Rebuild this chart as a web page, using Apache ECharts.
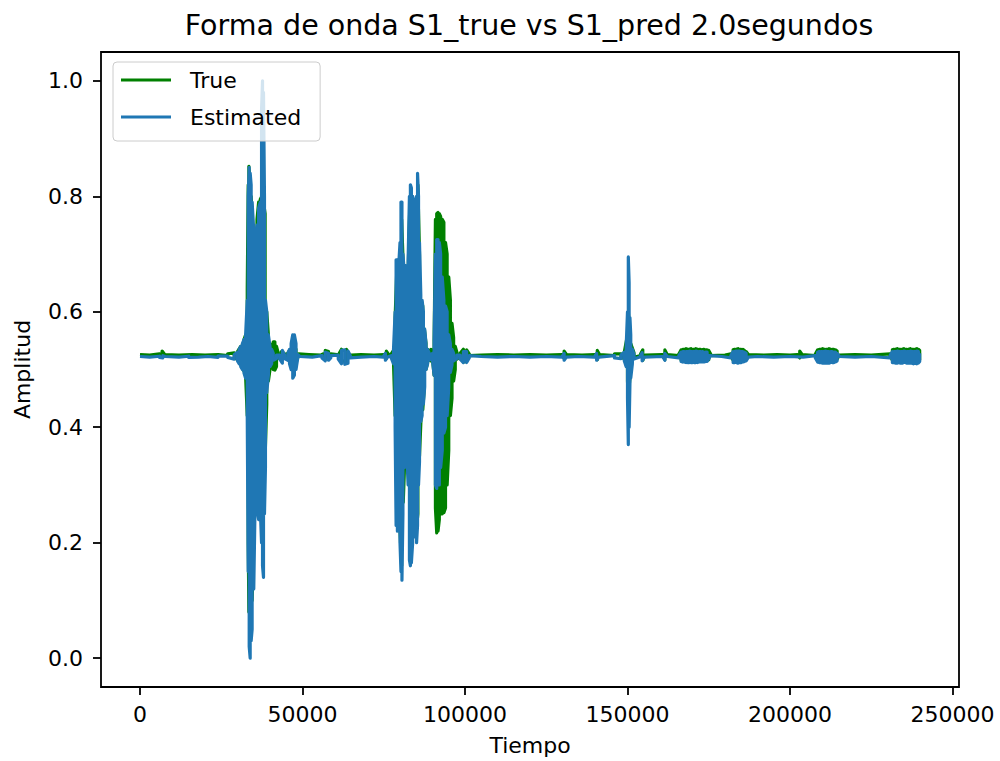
<!DOCTYPE html>
<html>
<head>
<meta charset="utf-8">
<script src="https://cdn.jsdelivr.net/npm/echarts@6/dist/echarts.min.js"></script>
<style>
html,body{margin:0;padding:0;background:#fff;}
#chart{width:1000px;height:761px;}
</style>
</head>
<body>
<div id="chart"></div>
<script>
// ---- Data ----
const titleText = 'Forma de onda S1_true vs S1_pred 2.0segundos';
const seriesNames = ['True', 'Estimated'];
const xTicks = [0, 50000, 100000, 150000, 200000, 250000];
const yTicks = [0.0, 0.2, 0.4, 0.6, 0.8, 1.0];

// Envelope of each waveform: [sample, upper value, lower value]
const trueEnv = [
  [0,0.526,0.525],[3000,0.526,0.525],[6000,0.527,0.524],[6800,0.532,0.521],[7600,0.526,0.525],
  [12000,0.526,0.525],[16000,0.526,0.525],[20000,0.526,0.525],[24000,0.526,0.525],[27000,0.527,0.524],
  [29000,0.529,0.521],[30000,0.531,0.517],[31000,0.540,0.508],[32000,0.552,0.497],[32500,0.560,0.488],
  [33000,0.640,0.420],[33300,0.820,0.200],[33500,0.852,0.080],[33800,0.830,0.030],[34200,0.800,0.060],
  [34500,0.770,0.100],[35000,0.730,0.220],[35500,0.730,0.280],[36000,0.760,0.260],[36500,0.790,0.250],
  [37000,0.795,0.240],[37500,0.800,0.250],[38000,0.790,0.280],[38500,0.770,0.350],[39000,0.600,0.440],
  [39500,0.560,0.480],[40000,0.545,0.500],[40500,0.535,0.512],[41000,0.548,0.500],[41500,0.548,0.499],
  [42000,0.540,0.505],[42500,0.529,0.520],[43500,0.531,0.518],[44500,0.527,0.524],[45300,0.527,0.524],
  [46000,0.533,0.516],[47000,0.545,0.505],[48000,0.535,0.512],[48800,0.527,0.524],[52000,0.526,0.525],
  [55600,0.526,0.525],[56300,0.527,0.524],[57000,0.533,0.517],[58000,0.531,0.519],[58700,0.527,0.524],
  [60600,0.526,0.525],[61300,0.528,0.523],[62000,0.535,0.515],[63500,0.535,0.514],[64200,0.528,0.523],
  [65000,0.526,0.525],[68000,0.526,0.525],[72000,0.526,0.525],[75100,0.526,0.525],[75800,0.532,0.519],
  [76500,0.526,0.525],[77300,0.527,0.524],
  [78000,0.533,0.512],[78500,0.590,0.420],[79000,0.670,0.250],[79500,0.670,0.250],[80000,0.700,0.220],
  [80500,0.760,0.160],[81000,0.680,0.270],[81500,0.660,0.350],[82000,0.650,0.360],[82500,0.670,0.320],
  [83000,0.780,0.190],[83500,0.800,0.180],[84000,0.780,0.220],[84500,0.770,0.230],[85000,0.780,0.220],
  [85500,0.820,0.250],[86000,0.700,0.350],[86500,0.620,0.420],[87000,0.610,0.430],[87500,0.570,0.470],
  [88000,0.545,0.500],[88500,0.535,0.512],[89000,0.530,0.518],[89500,0.535,0.515],[90000,0.533,0.517],
  [90500,0.550,0.490],[90900,0.760,0.260],[91300,0.770,0.217],[91700,0.772,0.220],[92100,0.770,0.240],
  [92500,0.765,0.250],[93000,0.760,0.250],[93500,0.755,0.252],[94000,0.720,0.260],[94500,0.700,0.300],
  [95000,0.660,0.360],[95500,0.620,0.420],[96000,0.580,0.450],[96500,0.555,0.480],[97000,0.540,0.500],
  [97500,0.530,0.518],[98500,0.528,0.522],[99500,0.535,0.513],[100500,0.534,0.514],[101300,0.527,0.524],
  [105000,0.526,0.525],[110000,0.526,0.525],[115000,0.526,0.525],[120000,0.526,0.525],[125000,0.526,0.525],
  [129800,0.526,0.525],[130500,0.532,0.519],[131200,0.526,0.525],[136000,0.526,0.525],[140000,0.526,0.525],
  [140700,0.533,0.517],[141400,0.526,0.525],[146000,0.527,0.524],[148000,0.527,0.523],[149000,0.530,0.518],
  [150000,0.560,0.480],[150250,0.600,0.450],[150500,0.580,0.470],[151000,0.545,0.500],[152000,0.529,0.521],
  [154000,0.527,0.524],[154700,0.534,0.516],[155400,0.526,0.525],[160800,0.526,0.525],[161500,0.534,0.517],
  [162200,0.526,0.525],[165800,0.527,0.524],
  [166500,0.534,0.516],[167000,0.535,0.515],[167500,0.535,0.515],[168000,0.536,0.514],[168500,0.535,0.515],
  [169000,0.535,0.515],[169500,0.536,0.515],[170000,0.535,0.514],[170500,0.535,0.515],[171000,0.536,0.515],
  [171500,0.535,0.515],[172000,0.535,0.514],[172500,0.535,0.515],[173000,0.534,0.516],[173500,0.535,0.516],
  [174000,0.534,0.516],[174500,0.534,0.516],[175000,0.533,0.517],[175600,0.527,0.524],[180000,0.526,0.525],
  [181800,0.527,0.524],[182500,0.534,0.516],[183000,0.535,0.515],[183500,0.535,0.515],[184000,0.536,0.514],
  [184500,0.535,0.515],[185000,0.535,0.515],[185500,0.535,0.515],[186000,0.533,0.517],[186500,0.531,0.519],
  [187200,0.526,0.525],[192000,0.526,0.525],[196000,0.526,0.525],[200000,0.526,0.525],[202300,0.526,0.525],
  [203000,0.532,0.520],[203700,0.526,0.525],[207800,0.527,0.524],
  [208500,0.534,0.516],[209000,0.535,0.515],[209500,0.535,0.515],[210000,0.536,0.514],[210500,0.535,0.514],
  [211000,0.535,0.514],[211500,0.535,0.514],[212000,0.536,0.514],[212500,0.535,0.514],[213000,0.535,0.515],
  [213500,0.535,0.515],[214000,0.534,0.516],[214500,0.532,0.518],[215200,0.526,0.525],[220000,0.526,0.525],
  [225000,0.526,0.525],[230800,0.527,0.524],
  [231500,0.534,0.516],[232000,0.535,0.515],[232500,0.535,0.514],[233000,0.536,0.514],[233500,0.535,0.514],
  [234000,0.535,0.515],[234500,0.535,0.514],[235000,0.536,0.514],[235500,0.535,0.514],[236000,0.535,0.515],
  [236500,0.535,0.514],[237000,0.536,0.514],[237500,0.535,0.514],[238000,0.535,0.515],[238500,0.535,0.514],
  [239000,0.536,0.514],[239500,0.535,0.514],[239900,0.533,0.516]
];

const estEnv = [
  [0,0.5225,0.5215],[3000,0.5225,0.5215],[6000,0.523,0.521],[7000,0.524,0.520],[7700,0.5225,0.5215],
  [12000,0.5225,0.5215],[15000,0.523,0.521],[18000,0.5225,0.5215],[21000,0.5225,0.5215],[24000,0.523,0.521],
  [27000,0.523,0.521],[29000,0.526,0.518],[30000,0.530,0.515],[30500,0.535,0.510],[31000,0.540,0.505],
  [31500,0.545,0.500],[32000,0.552,0.494],[32500,0.560,0.485],[33000,0.620,0.420],[33300,0.800,0.150],
  [33600,0.850,0.020],[33900,0.840,0.000],[34200,0.820,0.030],[34500,0.790,0.050],[35000,0.740,0.120],
  [35500,0.720,0.300],[36000,0.750,0.260],[36500,0.780,0.240],[37000,0.790,0.260],[37400,0.950,0.200],
  [37700,1.000,0.160],[38000,0.980,0.140],[38300,0.800,0.250],[38600,0.620,0.330],[39000,0.600,0.460],
  [39500,0.560,0.490],[40000,0.540,0.505],[40500,0.535,0.510],[41000,0.528,0.516],[42000,0.525,0.519],
  [43000,0.525,0.518],[43800,0.533,0.511],[44500,0.525,0.519],[45500,0.528,0.516],[46000,0.535,0.510],
  [46500,0.545,0.500],[47000,0.560,0.485],[47500,0.560,0.490],[48000,0.545,0.500],[48500,0.526,0.518],
  [49200,0.5225,0.5215],[53000,0.5225,0.5215],[56000,0.524,0.520],[57000,0.530,0.515],[58000,0.528,0.516],
  [58700,0.524,0.520],[61000,0.525,0.518],[62000,0.533,0.510],[63000,0.534,0.509],[64000,0.532,0.511],
  [64700,0.524,0.520],[68000,0.5225,0.5215],[72000,0.5225,0.5215],[74800,0.5225,0.5215],[75500,0.528,0.516],
  [76200,0.5225,0.5215],[77300,0.524,0.520],
  [78000,0.535,0.510],[78500,0.600,0.400],[78800,0.690,0.230],[79200,0.690,0.220],[79600,0.680,0.240],
  [80000,0.720,0.200],[80300,0.790,0.150],[80600,0.790,0.135],[80900,0.700,0.250],[81300,0.670,0.330],
  [81700,0.680,0.340],[82100,0.660,0.350],[82500,0.690,0.300],[82900,0.800,0.170],[83200,0.820,0.160],
  [83500,0.815,0.165],[83900,0.800,0.200],[84300,0.780,0.210],[84700,0.790,0.220],[85100,0.800,0.200],
  [85400,0.840,0.230],[85700,0.800,0.300],[86000,0.720,0.340],[86400,0.630,0.410],[86800,0.620,0.420],
  [87200,0.600,0.440],[87600,0.570,0.470],[88000,0.545,0.500],[88500,0.535,0.510],[89000,0.528,0.516],
  [89500,0.525,0.519],[90000,0.528,0.516],[90500,0.550,0.490],[90900,0.700,0.300],[91300,0.725,0.294],
  [91700,0.725,0.300],[92100,0.720,0.300],[92500,0.700,0.330],[93000,0.660,0.360],[93500,0.620,0.390],
  [94000,0.610,0.400],[94500,0.600,0.420],[95000,0.560,0.470],[95500,0.545,0.495],[96000,0.535,0.508],
  [96500,0.528,0.515],[97500,0.525,0.519],[98500,0.525,0.518],[99500,0.531,0.512],[100500,0.531,0.512],
  [101300,0.524,0.520],[105000,0.5225,0.5215],[110000,0.5225,0.5215],[115000,0.5225,0.5215],[120000,0.5225,0.5215],
  [125000,0.5225,0.5215],[129800,0.5225,0.5215],[130500,0.528,0.516],[131200,0.5225,0.5215],[135000,0.5225,0.5215],
  [139800,0.5225,0.5215],[140500,0.528,0.516],[141200,0.5225,0.5215],[146000,0.524,0.520],[148000,0.525,0.519],
  [149000,0.530,0.515],[149600,0.540,0.505],[150000,0.600,0.450],[150250,0.695,0.370],[150500,0.650,0.400],
  [150750,0.590,0.476],[151000,0.560,0.485],[151500,0.535,0.510],[152000,0.526,0.518],[153800,0.5225,0.5215],
  [154500,0.529,0.515],[155200,0.5225,0.5215],[160800,0.5225,0.5215],[161500,0.528,0.516],[162200,0.5225,0.5215],
  [165800,0.524,0.520],
  [166500,0.530,0.514],[167000,0.531,0.513],[167500,0.531,0.513],[168000,0.531,0.512],[168500,0.531,0.512],
  [169000,0.532,0.512],[169500,0.531,0.512],[170000,0.531,0.512],[170500,0.531,0.512],[171000,0.532,0.512],
  [171500,0.531,0.512],[172000,0.531,0.513],[172500,0.531,0.513],[173000,0.531,0.513],[173500,0.530,0.513],
  [174000,0.530,0.514],[174500,0.530,0.514],[175200,0.524,0.520],[179000,0.5225,0.5215],
  [181800,0.524,0.520],[182500,0.531,0.512],[183000,0.531,0.512],[183500,0.532,0.512],[184000,0.532,0.511],
  [184500,0.532,0.512],[185000,0.531,0.512],[185500,0.531,0.513],[186000,0.530,0.514],[186500,0.528,0.515],
  [187200,0.5225,0.5215],[190000,0.5225,0.5215],[195000,0.5225,0.5215],[200000,0.5225,0.5215],[204000,0.5225,0.5215],
  [207800,0.524,0.520],
  [208500,0.530,0.513],[209000,0.531,0.512],[209500,0.531,0.512],[210000,0.531,0.511],[210500,0.531,0.511],
  [211000,0.532,0.511],[211500,0.531,0.511],[212000,0.531,0.511],[212500,0.531,0.512],[213000,0.531,0.512],
  [213500,0.530,0.512],[214000,0.530,0.513],[214500,0.528,0.515],[215200,0.5225,0.5215],[220000,0.5225,0.5215],
  [225000,0.5225,0.5215],[230800,0.524,0.520],
  [231500,0.531,0.512],[232000,0.531,0.512],[232500,0.531,0.511],[233000,0.532,0.511],[233500,0.531,0.512],
  [234000,0.531,0.511],[234500,0.531,0.511],[235000,0.532,0.512],[235500,0.531,0.512],[236000,0.531,0.511],
  [236500,0.531,0.511],[237000,0.532,0.511],[237500,0.531,0.511],[238000,0.531,0.510],[238500,0.531,0.511],
  [239000,0.532,0.510],[239500,0.531,0.511],[239900,0.528,0.514]
];

// Turn an envelope into the up/down trace of the waveform
// (alternating the order so long connectors run along the envelope edges)
function trace(env) {
  const out = [];
  env.forEach(function (r, i) {
    if (i % 2 === 0) { out.push([r[0], r[1]]); out.push([r[0], r[2]]); }
    else { out.push([r[0], r[2]]); out.push([r[0], r[1]]); }
  });
  return out;
}

const FONT = 'DejaVu Sans';
const chart = echarts.init(document.getElementById('chart'), null, {renderer: 'svg'});
chart.setOption({
  animation: false,
  backgroundColor: '#fff',
  title: {
    text: titleText,
    left: 529, top: 11, padding: 0, textAlign: 'center',
    textStyle: {fontFamily: FONT, fontSize: 28.5, fontWeight: 'normal', color: '#000'}
  },
  grid: {left: 101, right: 41, top: 52, bottom: 72, show: true, borderColor: '#000', borderWidth: 1.8, backgroundColor: 'transparent', containLabel: false},
  legend: {
    orient: 'vertical', left: 113, top: 62,
    padding: [6, 19, 12, 8], itemGap: 13, itemWidth: 50, itemHeight: 3, icon: 'rect',
    backgroundColor: 'rgba(255,255,255,0.8)', borderColor: '#cccccc', borderWidth: 1, borderRadius: 4,
    textStyle: {fontFamily: FONT, fontSize: 22, color: '#000', lineHeight: 24, padding: [0, 0, 0, 14]},
    data: seriesNames
  },
  xAxis: {
    type: 'value', min: -12000, max: 252000,
    name: 'Tiempo', nameLocation: 'middle', nameGap: 47,
    nameTextStyle: {fontFamily: FONT, fontSize: 22, color: '#000'},
    axisLine: {show: false, onZero: false},
    axisTick: {show: true, length: 8, lineStyle: {color: '#000', width: 1.8}, customValues: xTicks},
    axisLabel: {fontFamily: FONT, fontSize: 22, color: '#000', margin: 16, customValues: xTicks,
      formatter: function (v) { return String(v); }},
    splitLine: {show: false}
  },
  yAxis: {
    type: 'value', min: -0.05, max: 1.05,
    name: 'Amplitud', nameLocation: 'middle', nameGap: 68,
    nameTextStyle: {fontFamily: FONT, fontSize: 22, color: '#000'},
    axisLine: {show: false, onZero: false},
    axisTick: {show: true, length: 8, lineStyle: {color: '#000', width: 1.8}, customValues: yTicks},
    axisLabel: {fontFamily: FONT, fontSize: 22, color: '#000', margin: 18, customValues: yTicks,
      formatter: function (v) { return v.toFixed(1); }},
    splitLine: {show: false}
  },
  series: [
    {name: seriesNames[0], type: 'line', data: trace(trueEnv), showSymbol: false, symbol: 'none',
     color: '#008000', lineStyle: {color: '#008000', width: 3.2, join: 'round'}, sampling: null, z: 2},
    {name: seriesNames[1], type: 'line', data: trace(estEnv), showSymbol: false, symbol: 'none',
     color: '#1f77b4', lineStyle: {color: '#1f77b4', width: 3.2, join: 'round'}, sampling: null, z: 3}
  ]
});
</script>
</body>
</html>
